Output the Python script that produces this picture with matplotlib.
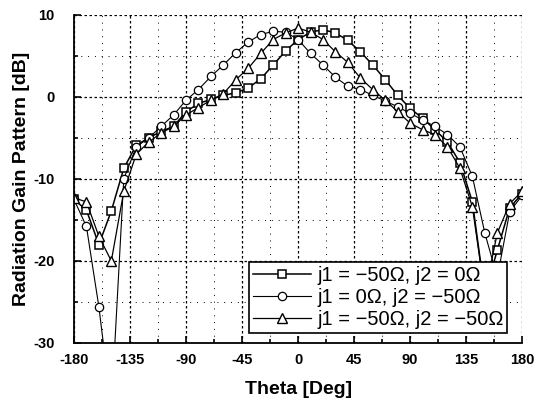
import matplotlib
matplotlib.use('Agg')
import matplotlib.pyplot as plt
import numpy as np

plt.rcParams['font.family'] = ['Liberation Sans', 'DejaVu Sans']

theta = np.arange(-180, 181, 10)

# j1 = -50 ohm, j2 = 0 ohm (squares)
gain_sq = [-12.5, -13.8, -18.0, -13.9, -8.7, -5.9, -5.0, -4.2, -3.6, -1.8,
           -0.8, -0.3, 0.2, 0.5, 1.1, 2.2, 3.9, 5.6, 7.0, 7.9,
           8.2, 7.8, 6.9, 5.5, 3.9, 2.1, 0.2, -1.4, -2.6, -4.0,
           -5.5, -8.0, -12.8, -24.0, -18.7, -13.5, -11.8]
# j1 = 0 ohm, j2 = -50 ohm (circles)
gain_ci = [-12.5, -15.8, -25.6, -38.0, -10.0, -6.1, -5.0, -3.6, -2.2, -0.4,
           0.9, 2.5, 3.9, 5.4, 6.7, 7.6, 8.0, 7.9, 7.0, 5.3,
           3.9, 2.4, 1.3, 0.9, 0.2, -0.5, -1.2, -2.0, -2.8, -3.6,
           -4.6, -6.1, -9.7, -16.6, -22.0, -14.0, -12.0]
# j1 = -50 ohm, j2 = -50 ohm (triangles)
gain_tr = [-12.3, -12.8, -17.0, -20.0, -11.5, -7.0, -5.5, -4.4, -3.6, -2.2,
           -1.3, -0.4, 0.4, 2.1, 3.5, 5.3, 7.0, 7.8, 8.4, 7.9,
           7.0, 5.5, 4.2, 2.3, 0.9, -0.4, -1.8, -3.2, -4.0, -4.6,
           -6.1, -8.7, -13.4, -24.0, -16.6, -13.0, -11.5]

labels = ['j1 = \u221250\u03a9, j2 = 0\u03a9',
          'j1 = 0\u03a9, j2 = \u221250\u03a9',
          'j1 = \u221250\u03a9, j2 = \u221250\u03a9']

xticks = np.arange(-180, 181, 45)
xticklabels = ['-180', '-135', '-90', '-45', '0', '45', '90', '135', '180']
yticks = np.arange(-30, 11, 10)
yticklabels = ['-30', '-20', '-10', '0', '10']

fig = plt.figure(figsize=(5.4, 4.03), dpi=100)
ax = fig.add_axes([0.137, 0.149, 0.830, 0.814])

ax.plot(theta, gain_sq, '-s', color='black', lw=1.1, ms=6,
        mfc='white', mec='black', mew=1.1, label=labels[0])
ax.plot(theta, gain_ci, '-o', color='black', lw=0.8, ms=6,
        mfc='white', mec='black', mew=0.9, label=labels[1])
ax.plot(theta, gain_tr, '-^', color='black', lw=0.9, ms=7,
        mfc='white', mec='black', mew=1.0, label=labels[2])

ax.set_xlim(-180, 180)
ax.set_ylim(-30, 10)
ax.set_xticks(xticks)
ax.set_xticklabels(xticklabels)
ax.set_xticks(np.arange(-180, 181, 22.5), minor=True)
ax.set_yticks(yticks)
ax.set_yticklabels(yticklabels)
ax.set_yticks(np.arange(-30, 11, 5), minor=True)

ax.grid(which='major', color='black', linestyle=(0, (2, 2)), linewidth=0.9)
ax.grid(which='minor', color='black', linestyle=(0, (1, 6)), linewidth=0.7)

for s in ['top', 'right']:
    ax.spines[s].set_visible(False)
ax.spines['left'].set_linewidth(1.3)
ax.spines['bottom'].set_linewidth(1.3)

ax.tick_params(which='both', direction='in', length=5, width=1.2)
ax.tick_params(which='minor', length=3)
ax.tick_params(axis='x', labelsize=10.5, pad=7)
ax.tick_params(axis='y', labelsize=10.5, pad=14)
for t in ax.get_xticklabels() + ax.get_yticklabels():
    t.set_fontweight('bold')

ax.set_xlabel('Theta [Deg]', fontsize=14, fontweight='bold', labelpad=10)
ax.set_ylabel('Radiation Gain Pattern [dB]', fontsize=14, fontweight='bold', labelpad=2)

leg = ax.legend(loc='lower right', bbox_to_anchor=(0.967, 0.03), fontsize=14.5,
                frameon=True, fancybox=False, edgecolor='black', framealpha=1,
                handlelength=2.9, handletextpad=0.3, borderpad=0.2,
                labelspacing=0.15, borderaxespad=0)
leg.get_frame().set_linewidth(1.2)

fig.savefig('out.png', dpi=100)
